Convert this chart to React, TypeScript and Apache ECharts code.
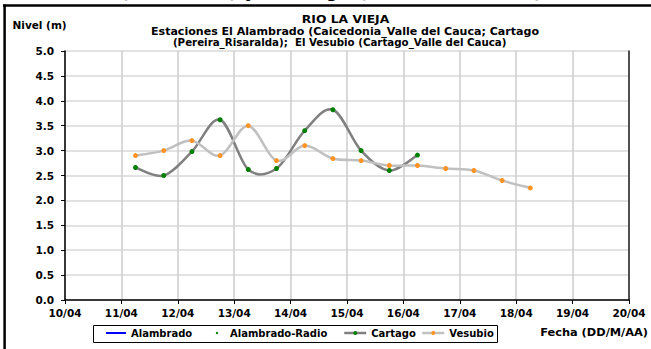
import React, { useEffect, useRef } from "react";
import * as echarts from "echarts";

const titleLines = [
  "RIO LA VIEJA",
  "Estaciones El Alambrado (Caicedonia_Valle del Cauca; Cartago",
  "(Pereira_Risaralda);  El Vesubio (Cartago_Valle del Cauca)",
];
const yAxisTitle = "Nivel (m)";
const xAxisTitle = "Fecha (DD/M/AA)";
const seriesNames = ["Alambrado", "Alambrado-Radio", "Cartago", "Vesubio"];
const xTickLabels = ["10/04", "11/04", "12/04", "13/04", "14/04", "15/04", "16/04", "17/04", "18/04", "19/04", "20/04"];

const alambradoDates: string[] = [];
const alambradoValues: number[] = [];
const alambradoRadioDates: string[] = [];
const alambradoRadioValues: number[] = [];

const cartagoDates = [
  "11/04 06:00", "11/04 18:00", "12/04 06:00", "12/04 18:00", "13/04 06:00", "13/04 18:00",
  "14/04 06:00", "14/04 18:00", "15/04 06:00", "15/04 18:00", "16/04 06:00",
];
const cartagoValues = [2.66, 2.5, 2.98, 3.62, 2.62, 2.64, 3.4, 3.82, 3.0, 2.6, 2.91];

const vesubioDates = [
  "11/04 06:00", "11/04 18:00", "12/04 06:00", "12/04 18:00", "13/04 06:00", "13/04 18:00",
  "14/04 06:00", "14/04 18:00", "15/04 06:00", "15/04 18:00", "16/04 06:00", "16/04 18:00",
  "17/04 06:00", "17/04 18:00", "18/04 06:00",
];
const vesubioValues = [2.9, 3.0, 3.2, 2.9, 3.5, 2.8, 3.1, 2.84, 2.8, 2.7, 2.7, 2.64, 2.6, 2.4, 2.25];

const FONT = '"DejaVu Sans", sans-serif';

function toDay(s: string): number {
  const [d, t] = s.split(" ");
  const dd = Number(d.split("/")[0]);
  const [hh, mm] = t.split(":").map(Number);
  return dd + (hh + mm / 60) / 24;
}

function pairs(dates: string[], values: number[]) {
  return dates.map((d, i) => [toDay(d), values[i]]);
}

function measure(text: string, font: string): number {
  const ctx = document.createElement("canvas").getContext("2d");
  if (!ctx) return 0;
  ctx.font = font;
  return ctx.measureText(text).width;
}

// Excel-like smoothed line drawn segment by segment (Catmull-Rom style bezier)
function smoothCurveSeries(name: string, pts: number[][], color: string) {
  return {
    name,
    type: "custom",
    data: pts,
    silent: true,
    z: 1,
    renderItem: (params: any, api: any) => {
      const i = params.dataIndex;
      if (i >= pts.length - 1) return null;
      const p0 = api.coord(pts[Math.max(i - 1, 0)]);
      const p1 = api.coord(pts[i]);
      const p2 = api.coord(pts[i + 1]);
      const p3 = api.coord(pts[Math.min(i + 2, pts.length - 1)]);
      const t = 1 / 6;
      return {
        type: "bezierCurve",
        shape: {
          x1: p1[0],
          y1: p1[1],
          cpx1: p1[0] + (p2[0] - p0[0]) * t,
          cpy1: p1[1] + (p2[1] - p0[1]) * t,
          cpx2: p2[0] - (p3[0] - p1[0]) * t,
          cpy2: p2[1] - (p3[1] - p1[1]) * t,
          x2: p2[0],
          y2: p2[1],
        },
        style: { stroke: color, lineWidth: 2.5, fill: "none" },
      };
    },
  };
}

export default function App() {
  const ref = useRef<HTMLDivElement>(null);
  useEffect(() => {
    if (!ref.current) return;
    const chart = echarts.init(ref.current, undefined, { renderer: "svg" });
    const legendText = { fontFamily: FONT, fontWeight: "bold", fontSize: 10, color: "#000" };
    const legendBase = {
      top: 328,
      padding: 0,
      itemGap: 0,
      selectedMode: false,
      textStyle: legendText,
    };
    const topGlyphs = [
      { t: "(", x: 125 },
      { t: ")", x: 233 },
      { t: "y", x: 250 },
      { t: "g", x: 332 },
      { t: "(", x: 363 },
      { t: ")", x: 538 },
    ];
    const titleFont = `bold 10.5px ${FONT}`;
    const titleSpans = [
      [301.7, 389.3],
      [150.7, 539.3],
      [172.7, 506.7],
    ];
    const titleYs = [19.7, 31.2, 42.3];
    const fechaFont = `bold 11px ${FONT}`;
    const fechaW = measure(xAxisTitle, fechaFont);

    const cartagoPts = pairs(cartagoDates, cartagoValues);
    const vesubioPts = pairs(vesubioDates, vesubioValues);

    chart.setOption({
      animation: false,
      backgroundColor: "#fff",
      grid: { left: 65, right: 22, top: 51, bottom: 49 },
      xAxis: {
        type: "value",
        min: 10,
        max: 20,
        interval: 1,
        axisLine: { show: true, lineStyle: { color: "#000", width: 1.5 } },
        axisTick: { show: true, length: 4, lineStyle: { color: "#000", width: 1 } },
        splitLine: { show: true, lineStyle: { color: "#cccccc", width: 1.5 } },
        axisLabel: {
          formatter: (v: number) => xTickLabels[Math.round(v) - 10] ?? "",
          fontFamily: FONT,
          fontWeight: "bold",
          fontSize: 10.5,
          color: "#000",
          margin: 7,
        },
      },
      yAxis: [
        {
          type: "value",
          min: 0,
          max: 5,
          interval: 0.5,
          axisLine: { show: true, lineStyle: { color: "#000", width: 1.5 } },
          axisTick: { show: true, length: 4, lineStyle: { color: "#000", width: 1 } },
          splitLine: { show: true, lineStyle: { color: "#d9d9d9", width: 1.5 } },
          axisLabel: {
            formatter: (v: number) => v.toFixed(1),
            fontFamily: FONT,
            fontWeight: "bold",
            fontSize: 10.5,
            color: "#000",
            margin: 11,
          },
        },
        {
          type: "value",
          min: 0,
          max: 5,
          interval: 0.5,
          position: "right",
          axisLine: { show: true, lineStyle: { color: "#222", width: 1.5 } },
          axisTick: { show: false },
          axisLabel: { show: false },
          splitLine: { show: false },
        },
      ],
      legend: [
        { ...legendBase, left: 105, itemWidth: 20, itemHeight: 5, data: [{ name: seriesNames[0], itemStyle: { opacity: 0 } }] },
        { ...legendBase, left: 209, itemWidth: 16, itemHeight: 3, data: [seriesNames[1]] },
        {
          ...legendBase,
          left: 343,
          itemWidth: 22,
          itemHeight: 5,
          lineStyle: { color: "#808080", width: 2.5, opacity: 1 },
          data: [seriesNames[2]],
        },
        {
          ...legendBase,
          left: 421,
          itemWidth: 22,
          itemHeight: 5,
          lineStyle: { color: "#c0c0c0", width: 2.5, opacity: 1 },
          data: [seriesNames[3]],
        },
      ],
      series: [
        {
          name: seriesNames[0],
          type: "line",
          data: pairs(alambradoDates, alambradoValues),
          symbol: "none",
          color: "#0000ff",
          lineStyle: { color: "#0000ff", width: 2.5 },
          itemStyle: { color: "#0000ff" },
        },
        {
          name: seriesNames[1],
          type: "line",
          data: pairs(alambradoRadioDates, alambradoRadioValues),
          symbol: "circle",
          symbolSize: 3,
          color: "#008000",
          lineStyle: { width: 0, color: "#008000" },
          itemStyle: { color: "#008000" },
        },
        {
          name: seriesNames[2],
          type: "line",
          data: cartagoPts,
          symbol: "circle",
          symbolSize: 5,
          z: 3,
          color: "#008000",
          lineStyle: { color: "#808080", width: 2.5, opacity: 0 },
          itemStyle: { color: "#008000", borderWidth: 0 },
        },
        {
          name: seriesNames[3],
          type: "line",
          data: vesubioPts,
          symbol: "circle",
          symbolSize: 5,
          z: 3,
          color: "#ff9326",
          lineStyle: { color: "#c0c0c0", width: 2.5, opacity: 0 },
          itemStyle: { color: "#ff9326", borderWidth: 0 },
        },
        smoothCurveSeries(seriesNames[2], cartagoPts, "#808080"),
        smoothCurveSeries(seriesNames[3], vesubioPts, "#c0c0c0"),
      ],
      graphic: [
        ...topGlyphs.map((g) => ({
          type: "text",
          x: g.x,
          y: -8,
          silent: true,
          style: { text: g.t, font: `bold 16px ${FONT}`, fill: "#000", align: "center", verticalAlign: "middle" },
        })),
        { type: "line", silent: true, shape: { x1: 3, y1: 5.6, x2: 651, y2: 5.6 }, style: { stroke: "#000", lineWidth: 2.5 } },
        { type: "line", silent: true, shape: { x1: 4.6, y1: 4.5, x2: 4.6, y2: 349 }, style: { stroke: "#000", lineWidth: 2.5 } },
        {
          type: "text",
          x: 12.5,
          y: 25,
          silent: true,
          style: { text: yAxisTitle, font: `bold 10.5px ${FONT}`, fill: "#000", align: "left", verticalAlign: "middle" },
        },
        ...titleLines.map((t, i) => {
          const w = measure(t, titleFont);
          const target = titleSpans[i][1] - titleSpans[i][0];
          return {
            type: "text",
            x: (titleSpans[i][0] + titleSpans[i][1]) / 2,
            y: titleYs[i],
            scaleX: w > 0 ? target / w : 1,
            silent: true,
            style: { text: t, font: titleFont, fill: "#000", align: "center", verticalAlign: "middle" },
          };
        }),
        {
          type: "text",
          x: 648,
          y: 333,
          scaleX: fechaW > 0 ? 108 / fechaW : 1,
          silent: true,
          style: { text: xAxisTitle, font: fechaFont, fill: "#000", align: "right", verticalAlign: "middle" },
        },
        {
          type: "rect",
          silent: true,
          z: -1,
          shape: { x: 93.5, y: 325.5, width: 404, height: 17 },
          style: { fill: "none", stroke: "#000", lineWidth: 1 },
        },
      ],
    });
    return () => chart.dispose();
  }, []);
  return <div ref={ref} style={{ position: "absolute", left: 0, top: 0, width: 651, height: 349 }} />;
}
